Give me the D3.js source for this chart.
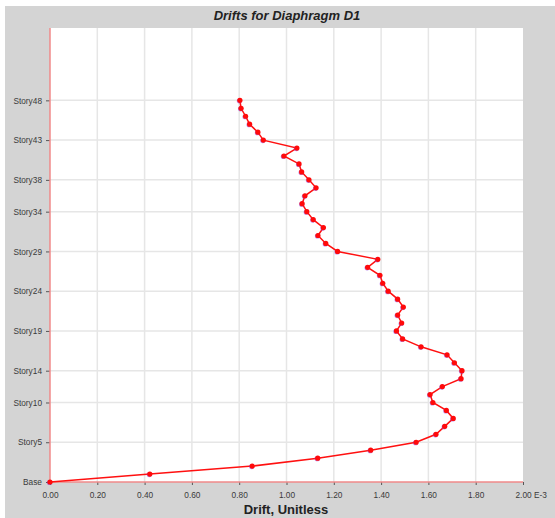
<!DOCTYPE html>
<html>
<head>
<meta charset="utf-8">
<script src="https://d3js.org/d3.v7.min.js"></script>
<style>
  body { margin: 0; background: #fff; }
  svg text { font-family: "Liberation Sans", Arial, sans-serif; }
  .tick text { fill: #3a3a3a; font-size: 8.3px; }
  .tick line { stroke: #555; }
  .domain { display: none; }
  .grid line { stroke: #e6e6e6; stroke-width: 1.5; }
</style>
</head>
<body>
<div id="chart"></div>
<script>
// stories 0 (Base) .. 48
var stories = d3.range(0, 49);
// drift values (x 1E-3), Base up to Story48
var drifts = [
  0.000, 0.422, 0.855, 1.132, 1.356, 1.548, 1.632, 1.669, 1.705, 1.676,
  1.619, 1.607, 1.659, 1.738, 1.742, 1.710, 1.679, 1.569, 1.491, 1.465,
  1.487, 1.470, 1.494, 1.470, 1.430, 1.407, 1.395, 1.343, 1.386, 1.216,
  1.166, 1.133, 1.156, 1.113, 1.086, 1.066, 1.078, 1.125, 1.095, 1.064,
  1.053, 0.989, 1.044, 0.902, 0.879, 0.844, 0.827, 0.808, 0.803
];
var storyTicks = [0, 5, 10, 14, 19, 24, 29, 34, 38, 43, 48];
var driftTicks = [0, 0.2, 0.4, 0.6, 0.8, 1.0, 1.2, 1.4, 1.6, 1.8, 2.0];

var width = 555, height = 518;
var margin = {top: 28, right: 32, bottom: 36, left: 50};

var svg = d3.select("#chart").append("svg")
    .attr("width", width)
    .attr("height", height);

svg.append("rect")
    .attr("x", 5).attr("y", 6)
    .attr("width", width - 5).attr("height", height - 6)
    .attr("fill", "#d4d4d4");

svg.append("text")
    .attr("x", 287).attr("y", 20)
    .attr("text-anchor", "middle")
    .style("font-size", "13px")
    .style("font-weight", "bold")
    .style("font-style", "italic")
    .style("fill", "#222")
    .text("Drifts for Diaphragm D1");

var x = d3.scaleLinear()
    .domain([0, 2])
    .range([margin.left, width - margin.right]);

var y = d3.scaleLinear()
    .domain([0, 57.1])
    .range([height - margin.bottom, margin.top]);

svg.append("rect")
    .attr("x", x(0)).attr("y", y(57.1))
    .attr("width", x(2) - x(0))
    .attr("height", y(0) - y(57.1))
    .attr("fill", "#fff");

// grid
svg.append("g").attr("class", "grid")
  .selectAll("line")
  .data(driftTicks.slice(1, -1))
  .enter().append("line")
    .attr("x1", function(d){ return x(d); })
    .attr("x2", function(d){ return x(d); })
    .attr("y1", y(57.1)).attr("y2", y(0));

svg.append("g").attr("class", "grid")
  .selectAll("line")
  .data(storyTicks.slice(1))
  .enter().append("line")
    .attr("x1", x(0)).attr("x2", x(2))
    .attr("y1", function(d){ return y(d); })
    .attr("y2", function(d){ return y(d); });

// axes
var xAxis = svg.append("g")
    .attr("transform", "translate(0," + y(0) + ")")
    .call(d3.axisBottom(x).tickValues(driftTicks).tickSize(3).tickPadding(7)
      .tickFormat(function(d){ return d3.format(".2f")(d); }));

xAxis.selectAll(".tick").filter(function(d){ return d === 2; })
  .select("text")
    .attr("text-anchor", "start")
    .attr("dx", "-8px")
    .text("2.00 E-3");

svg.append("g")
    .attr("transform", "translate(" + x(0) + ",0)")
    .call(d3.axisLeft(y).tickValues(storyTicks).tickSize(4).tickPadding(4)
      .tickFormat(function(d){ return d === 0 ? "Base" : "Story" + d; }));

svg.append("line")
    .attr("x1", x(0)).attr("x2", x(0))
    .attr("y1", y(57.1)).attr("y2", y(0))
    .attr("stroke", "#f08a8a").attr("stroke-width", 1.5);

svg.append("line")
    .attr("x1", x(0)).attr("x2", x(2))
    .attr("y1", y(0)).attr("y2", y(0))
    .attr("stroke", "#f08a8a").attr("stroke-width", 1.5);

svg.append("text")
    .attr("x", 286).attr("y", 514)
    .attr("text-anchor", "middle")
    .style("font-size", "13px")
    .style("font-weight", "bold")
    .style("fill", "#222")
    .text("Drift, Unitless");

// data line
var pts = stories.map(function(s, i){ return {story: s, drift: drifts[i]}; });

svg.append("path")
    .datum(pts)
    .attr("fill", "none")
    .attr("stroke", "#ff1010")
    .attr("stroke-width", 1.5)
    .attr("d", d3.line()
      .x(function(d){ return x(d.drift); })
      .y(function(d){ return y(d.story); }));

svg.selectAll(".dot-shadow")
    .data(pts)
    .enter().append("circle")
    .attr("cx", function(d){ return x(d.drift) - 0.5; })
    .attr("cy", function(d){ return y(d.story) + 0.5; })
    .attr("r", 2.6)
    .attr("fill", "#8a3ce0")
    .attr("opacity", 0.6);

svg.selectAll(".dot")
    .data(pts)
    .enter().append("circle")
    .attr("cx", function(d){ return x(d.drift); })
    .attr("cy", function(d){ return y(d.story); })
    .attr("r", 2.6)
    .attr("fill", "#ff0a0a");
</script>
</body>
</html>
